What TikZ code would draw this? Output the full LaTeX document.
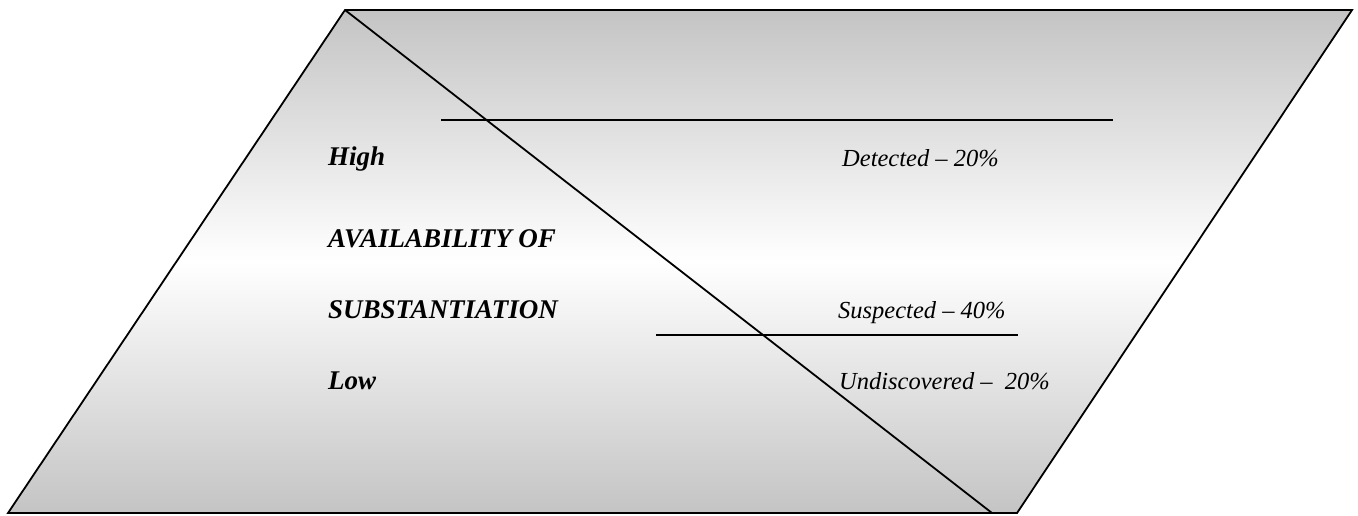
\documentclass[tikz,border=0pt]{standalone}
\usepackage{fontspec}
\setmainfont{Liberation Serif}
\usetikzlibrary{calc}
\definecolor{shadegray}{RGB}{196,196,196}
\tikzstyle{edgeline} = [draw, line width=1.8pt]
\tikzstyle{axislabel} = [anchor=base west, inner sep=0pt, font=\fontsize{27}{32}\selectfont\bfseries\itshape]
\tikzstyle{share} = [anchor=base west, inner sep=0pt, font=\fontsize{24.5}{30}\selectfont\itshape]

\begin{document}
\begin{tikzpicture}[x=1pt, y=-1pt]
\useasboundingbox (0,0) rectangle (1358,515);

% corners of the band
\coordinate (bl) at (8,513);
\coordinate (br) at (1017,513);
\coordinate (tr) at (1352,10);
\coordinate (tl) at (345,10);
\coordinate (dg) at (992,513);

\shade[top color=shadegray, bottom color=shadegray, middle color=white]
  (bl) -- (br) -- (tr) -- (tl) -- cycle;
\draw[edgeline, line join=miter] (bl) -- (br) -- (tr) -- (tl) -- cycle;
\draw[edgeline] (tl) -- (dg);

% dividing lines
\coordinate (upA) at (441,120);
\coordinate (upB) at (1113,120);
\coordinate (loA) at (656,335);
\coordinate (loB) at (1018,335);
\draw[edgeline] (upA) -- (upB);
\draw[edgeline] (loA) -- (loB);

% left labels
\node[axislabel] (high) at (328,165) {High};
\node[axislabel] (avail) at (328,247) {AVAILABILITY OF};
\node[axislabel] (subst) at (328,318) {SUBSTANTIATION};
\node[axislabel] (low) at (328,389) {Low};

% right labels
\node[share] (det) at (842,166) {Detected -- 20\%};
\node[share] (susp) at (838,318) {Suspected -- 40\%};
\node[share] (undisc) at (839,389) {Undiscovered --\ \ 20\%};

\end{tikzpicture}
\end{document}
